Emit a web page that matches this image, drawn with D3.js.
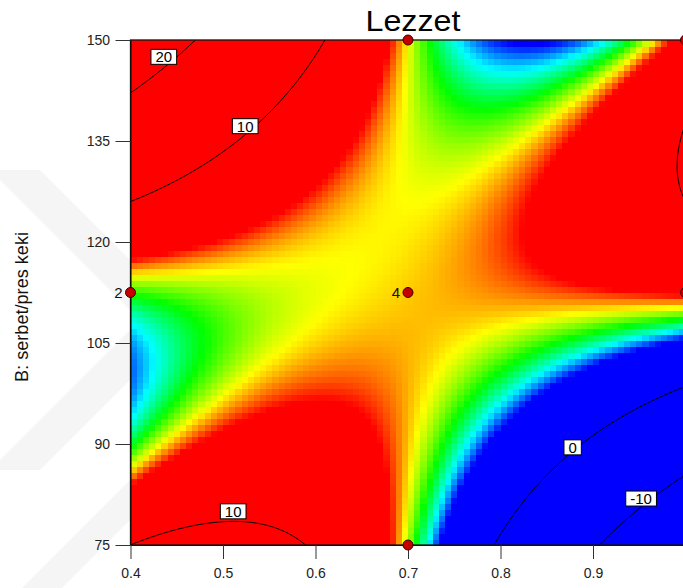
<!DOCTYPE html>
<html>
<head>
<meta charset="utf-8">
<script src="https://cdn.jsdelivr.net/npm/d3@7"></script>
<style>
  body { margin: 0; background: #fff; }
  svg { display: block; font-family: "Liberation Sans", Arial, sans-serif; }
</style>
</head>
<body>
<svg id="chart"></svg>
<script>
// Lezzet response surface (cubic model in coded factors A, B)
const modelTerms = ["1", "A", "B", "AB", "A2", "B2", "A2B", "AB2", "A3", "B3"];
const modelCoefs = [6.2, 0.55, -0.36, 2.77, -0.03, -0.25, 11.02, -13.17, 0.16, 0.48];

const factorA = [0.4, 1.0];
const factorB = [75, 150];

const colorRange = [4.0, 6.75];
const contourLevels = [-10, 0, 10, 20];

// contour labels: level + where the label box sits
const labelLevels = [20, 10, 10, 0, -10];
const labelA = [0.436, 0.524, 0.511, 0.878, 0.952];
const labelB = [147.5, 137.2, 80.0, 89.5, 81.9];

// design points and replicate counts
const designA = [0.7, 1.0, 0.4, 0.7, 1.0, 0.7];
const designB = [150, 150, 112.5, 112.5, 112.5, 75];
const designReps = [1, 1, 2, 4, 1, 1];

const xTicks = [0.4, 0.5, 0.6, 0.7, 0.8, 0.9];
const yTicks = [75, 90, 105, 120, 135, 150];

const width = 683, height = 588;

const svg = d3.select("#chart")
    .attr("width", width)
    .attr("height", height);

const x = d3.scaleLinear().domain(factorA).range([130.5, 685.5]);
const y = d3.scaleLinear().domain(factorB).range([545, 40]);

const codeA = d3.scaleLinear().domain(factorA).range([-1, 1]);
const codeB = d3.scaleLinear().domain(factorB).range([-1, 1]);

function predict(a, b) {
    const X = codeA(a), Y = codeB(b);
    const basis = {
        "1": 1, A: X, B: Y, AB: X * Y, A2: X * X, B2: Y * Y,
        A2B: X * X * Y, AB2: X * Y * Y, A3: X * X * X, B3: Y * Y * Y
    };
    return d3.sum(modelTerms, (t, i) => modelCoefs[i] * basis[t]);
}

const cr = colorRange[1] - colorRange[0];
const color = d3.scaleLinear()
    .domain([0, 0.25, 0.5, 0.75, 1].map(t => colorRange[0] + t * cr))
    .range(["#0000ff", "#00ffff", "#00ff00", "#ffff00", "#ff0000"])
    .clamp(true);

// faint watermark behind everything
svg.append("path")
    .attr("d", "M-10,170 L40,170 L190,320 L40,470 L-10,470 L140,320 Z")
    .attr("fill", "#f5f5f5");
svg.append("path")
    .attr("d", "M20,590 L150,460 L190,460 L60,590 Z")
    .attr("fill", "#f5f5f5");

svg.append("clipPath")
    .attr("id", "plotClip")
    .append("rect")
    .attr("x", x(factorA[0]))
    .attr("y", y(factorB[1]))
    .attr("width", x(factorA[1]) - x(factorA[0]))
    .attr("height", y(factorB[0]) - y(factorB[1]));

const plot = svg.append("g").attr("clip-path", "url(#plotClip)");

// Heatmap cells
const nx = 90, ny = 84;
const da = (factorA[1] - factorA[0]) / nx;
const db = (factorB[1] - factorB[0]) / ny;
const cells = [];
for (let j = 0; j < ny; j++) {
    for (let i = 0; i < nx; i++) {
        const a0 = factorA[0] + i * da;
        const b0 = factorB[0] + j * db;
        cells.push({ a0, b0, v: predict(a0 + da / 2, b0 + db / 2) });
    }
}

plot.append("g")
    .attr("shape-rendering", "crispEdges")
    .selectAll("rect")
    .data(cells)
    .join("rect")
    .attr("x", d => x(d.a0))
    .attr("y", d => y(d.b0 + db))
    .attr("width", d => x(d.a0 + da) - x(d.a0) + 0.6)
    .attr("height", d => y(d.b0) - y(d.b0 + db) + 0.6)
    .attr("fill", d => color(d.v));

// Contour lines
const nA = 241, nB = 201;
const grid = new Array(nA * nB);
for (let j = 0; j < nB; j++) {
    const b = factorB[1] - j * (factorB[1] - factorB[0]) / (nB - 1);
    for (let i = 0; i < nA; i++) {
        const a = factorA[0] + i * (factorA[1] - factorA[0]) / (nA - 1);
        grid[j * nA + i] = predict(a, b);
    }
}
const contours = d3.contours().size([nA, nB]).thresholds(contourLevels)(grid);

const gx = d3.scaleLinear().domain([0.5, nA - 0.5]).range([x(factorA[0]), x(factorA[1])]);
const gy = d3.scaleLinear().domain([0.5, nB - 0.5]).range([y(factorB[1]), y(factorB[0])]);
const contourPath = d3.geoPath(d3.geoTransform({
    point(px, py) { this.stream.point(gx(px), gy(py)); }
}));

plot.append("g")
    .selectAll("path")
    .data(contours)
    .join("path")
    .attr("d", contourPath)
    .attr("fill", "none")
    .attr("stroke", "#000")
    .attr("stroke-width", 1);

// Frame
svg.append("rect")
    .attr("x", x(factorA[0]))
    .attr("y", y(factorB[1]))
    .attr("width", x(factorA[1]) - x(factorA[0]))
    .attr("height", y(factorB[0]) - y(factorB[1]))
    .attr("fill", "none")
    .attr("stroke", "#111")
    .attr("stroke-width", 1.3);

// Contour labels
labelLevels.forEach((level, k) => {
    const g = svg.append("g")
        .attr("transform", `translate(${x(labelA[k])},${y(labelB[k])})`);
    const rect = g.append("rect");
    const txt = g.append("text")
        .attr("text-anchor", "middle")
        .attr("dy", "0.36em")
        .style("font-size", "15px")
        .attr("fill", "#000")
        .text(level);
    const w = txt.node().getComputedTextLength() + 9;
    rect.attr("x", -w / 2).attr("y", -7.5)
        .attr("width", w).attr("height", 15)
        .attr("fill", "#fff")
        .attr("stroke", "#000")
        .attr("stroke-width", 1);
});

// Axes
const xAxis = svg.append("g")
    .attr("transform", `translate(0,${y(factorB[0])})`)
    .call(d3.axisBottom(x).tickValues(xTicks).tickFormat(d3.format(".1f"))
        .tickSize(14).tickSizeOuter(0).tickPadding(9));
const yAxis = svg.append("g")
    .attr("transform", `translate(${x(factorA[0])},0)`)
    .call(d3.axisLeft(y).tickValues(yTicks).tickFormat(d => d)
        .tickSize(15).tickSizeOuter(0).tickPadding(5.5));

[xAxis, yAxis].forEach(ax => {
    ax.select(".domain").attr("stroke", "#111");
    ax.selectAll(".tick line").attr("stroke", "#333");
    ax.selectAll(".tick text")
        .attr("fill", "#222")
        .style("font-size", "14px")
        .style("font-family", "'Liberation Sans', Arial, sans-serif");
});

// Design points
const pts = designA.map((a, i) => ({ a, b: designB[i], n: designReps[i] }));
svg.append("g")
    .selectAll("circle")
    .data(pts)
    .join("circle")
    .attr("cx", d => x(d.a))
    .attr("cy", d => y(d.b))
    .attr("r", 5)
    .attr("fill", "#c40000")
    .attr("stroke", "#3a0000")
    .attr("stroke-width", 1);

svg.append("g")
    .selectAll("text")
    .data(pts.filter(d => d.n > 1))
    .join("text")
    .attr("x", d => x(d.a) - 8)
    .attr("y", d => y(d.b))
    .attr("dy", "0.36em")
    .attr("text-anchor", "end")
    .style("font-size", "15px")
    .attr("fill", "#111")
    .text(d => d.n);

// Title and axis label
svg.append("text")
    .attr("x", 413)
    .attr("y", 31)
    .attr("text-anchor", "middle")
    .style("font-size", "30px")
    .attr("textLength", 95)
    .attr("lengthAdjust", "spacingAndGlyphs")
    .text("Lezzet");

svg.append("text")
    .attr("transform", "translate(28,307) rotate(-90)")
    .attr("text-anchor", "middle")
    .style("font-size", "19px")
    .attr("textLength", 150)
    .attr("lengthAdjust", "spacingAndGlyphs")
    .attr("fill", "#111")
    .text("B: serbet/pres keki");
</script>
</body>
</html>
